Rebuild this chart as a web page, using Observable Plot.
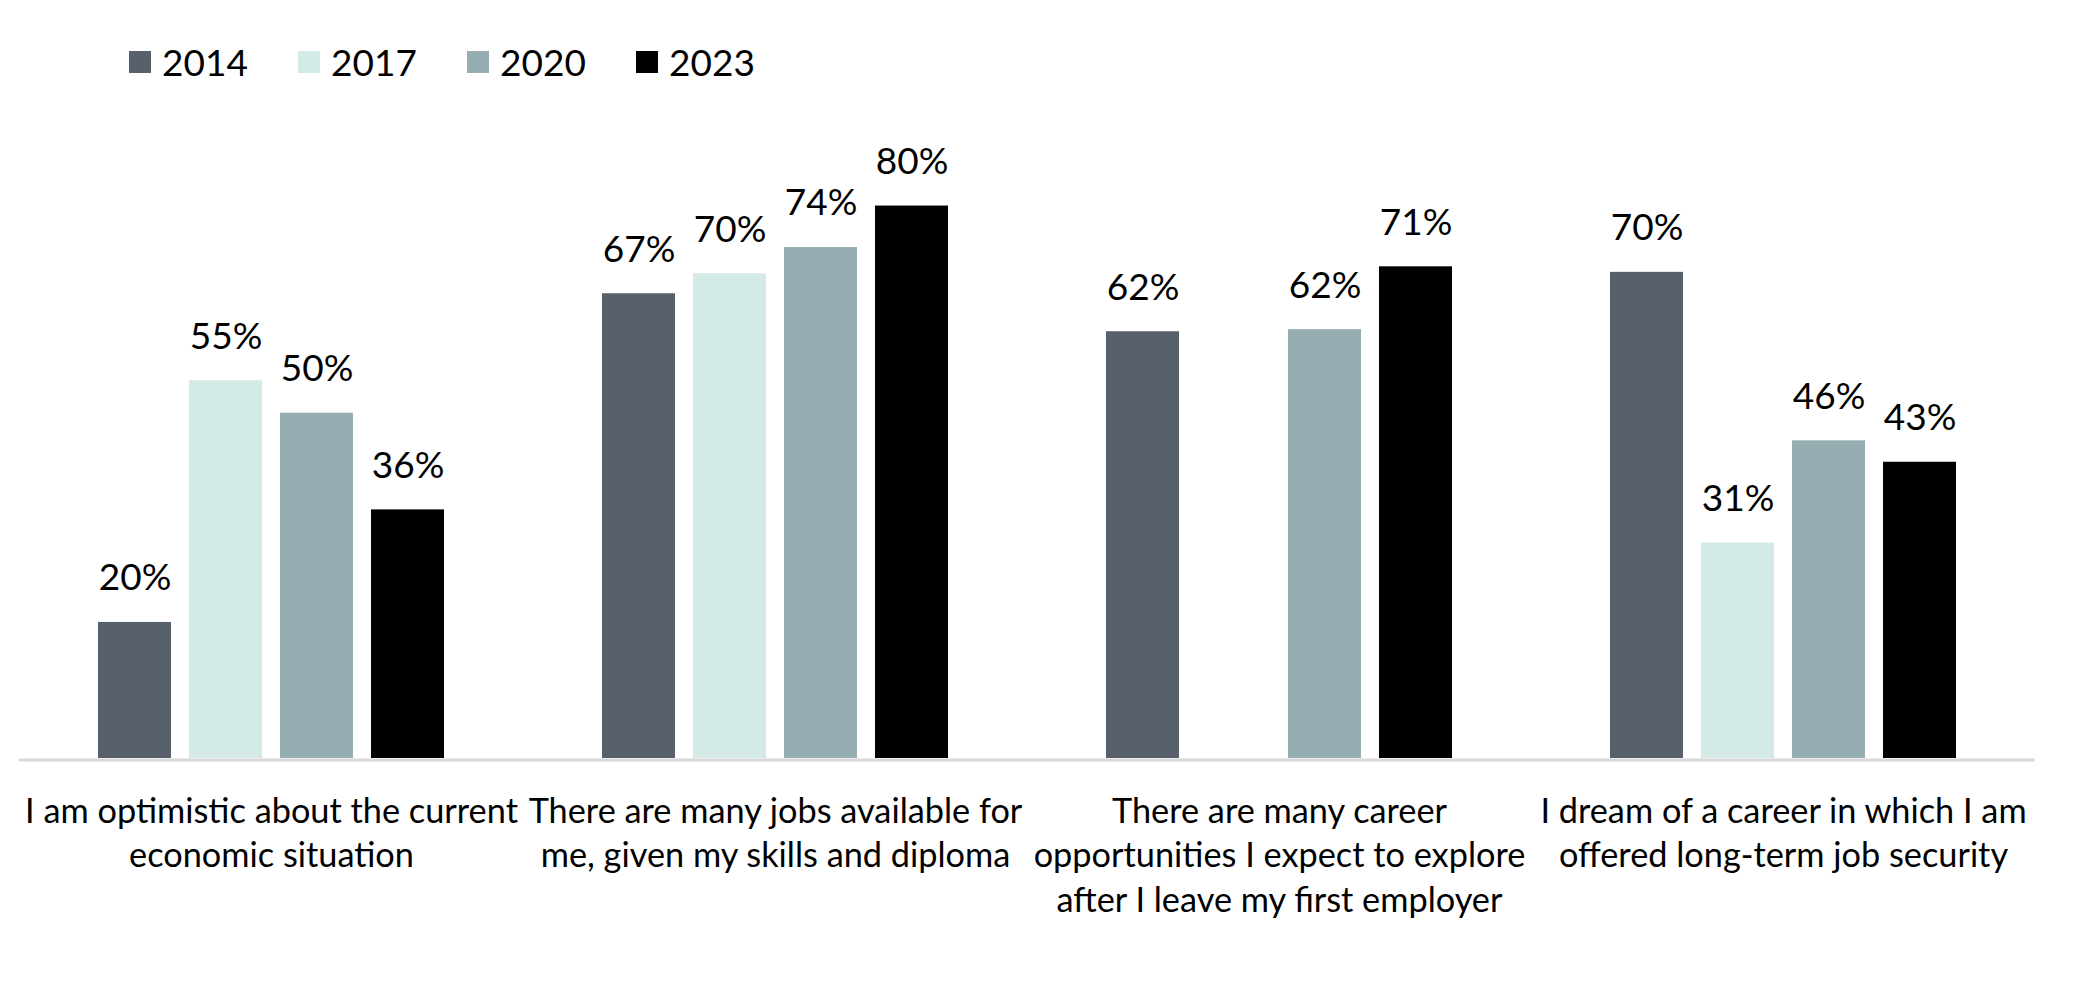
<!DOCTYPE html>
<html><head><meta charset="utf-8">
<script src="https://cdn.jsdelivr.net/npm/d3@7"></script>
<script src="https://cdn.jsdelivr.net/npm/@observablehq/plot@0.6"></script>
<style>
body{margin:0;background:#fff;font-family:Lato,sans-serif}
#legend{height:123px;display:flex;align-items:center;padding-left:129px;box-sizing:border-box}
#legend > div, #legend .lg-swatches, #legend .lg-swatch, #legend .lg-swatch *{font-family:Lato,sans-serif !important;font-size:37px !important;color:#000 !important}
#legend > div{margin:0 !important;min-height:0 !important;gap:0 !important;column-gap:0 !important}
#legend .lg-swatch{margin:0 !important;width:169px;display:inline-flex;align-items:center}
#legend .lg-swatch svg{margin-right:11px !important;flex-shrink:0}
</style></head><body>
<div id="legend"></div><div id="chart"></div>
<script>
const categories = [
  "I am optimistic about the current\neconomic situation",
  "There are many jobs available for\nme, given my skills and diploma",
  "There are many career\nopportunities I expect to explore\nafter I leave my first employer",
  "I dream of a career in which I am\noffered long-term job security"
];
const years = ["2014", "2017", "2020", "2023"];
const colors = ["#57606b", "#d4eae7", "#96adb2", "#000000"];
const v2014 = [19.7, 67.3, 61.8, 70.4];
const v2017 = [54.7, 70.2, null, 31.2];
const v2020 = [50.0, 74.0, 62.1, 46.0];
const v2023 = [36.0, 80.0, 71.2, 42.9];

const series = [v2014, v2017, v2020, v2023];
const data = [];
categories.forEach((c, i) => {
  years.forEach((y, j) => {
    const v = series[j][i];
    if (v != null) data.push({category: c, year: y, value: v});
  });
});

const legend = Plot.legend({
  color: {domain: years, range: colors},
  legend: "swatches",
  swatchSize: 22,
  className: "lg"
});
document.getElementById("legend").append(legend);

const chart = Plot.plot({
  width: 2079,
  height: 875,
  marginTop: 13.5,
  marginBottom: 240,
  marginLeft: 17,
  marginRight: 43,
  style: {fontFamily: "Lato, sans-serif", background: "white", color: "#000"},
  fx: {domain: categories, padding: 0, label: null},
  x: {domain: years, paddingInner: 0.2, paddingOuter: 0.864, axis: null},
  y: {domain: [0, 90], axis: null},
  color: {domain: years, range: colors},
  marks: [
    Plot.barY(data, {fx: "category", x: "year", y: "value", fill: "year"}),
    Plot.text(data, {fx: "category", x: "year", y: "value", text: d => Math.round(d.value) + "%", lineAnchor: "bottom", dy: -32, fontSize: 37, fill: "#000"}),
    Plot.ruleY([0], {stroke: "#d9d9d9", strokeWidth: 3, dy: 1.5}),
    Plot.axisFx({anchor: "bottom", tickSize: 0, tickPadding: 33, fontSize: 34.3, lineHeight: 1.295, label: null, fill: "#000"})
  ]
});
document.getElementById("chart").append(chart);
</script>
</body></html>
